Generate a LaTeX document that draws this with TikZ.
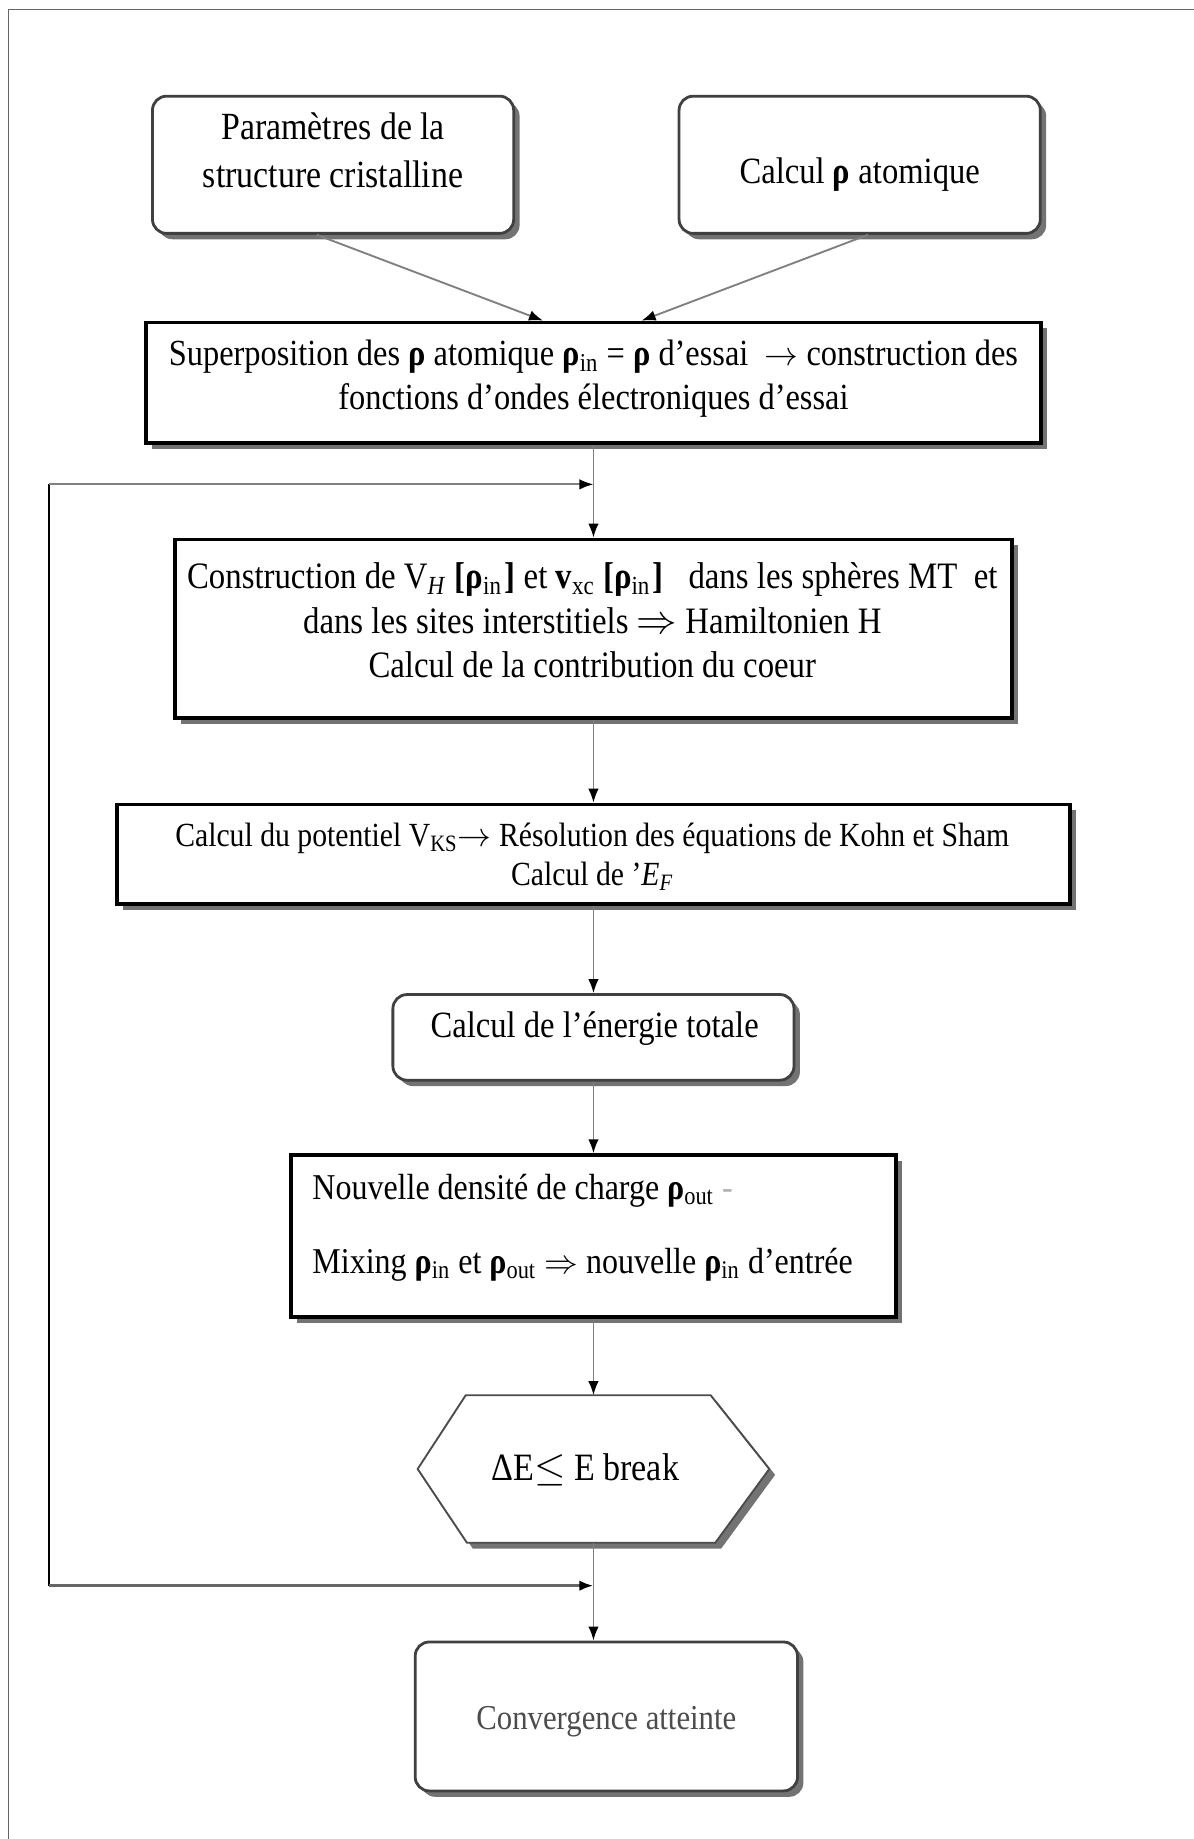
\documentclass[tikz,border=0pt]{standalone}
\usepackage{fontspec}
\setmainfont{Liberation Serif}[FakeStretch=0.88]
\usetikzlibrary{arrows.meta,shadows,calc}

% bold rho and subscripts used in the labels
\newcommand\rhob{\textbf{ρ}}
\newcommand\rin{\rhob\textsubscript{in}}
\newcommand\rout{\rhob\textsubscript{out}}
\newcommand\fsz[2]{\fontsize{#1}{#2}\selectfont}

\begin{document}
\begin{tikzpicture}[x=0.5pt,y=-0.5pt,
  every node/.style={inner sep=0pt},
  shade box/.style={drop shadow={shadow xshift=2.5pt,shadow yshift=-2.5pt,fill=black!55,opacity=1}},
  rbox/.style={draw=black!75,line width=1.2pt,rounded corners=6pt,fill=white,shade box},
  sbox/.style={draw=black,line width=1.6pt,fill=white,shade box},
  txt/.style={align=center,text=black},
  link/.style={draw=black!50,line width=0.8pt,-{Latex[length=6pt,width=4.5pt,color=black]}},
  loopline/.style={draw=black,line width=0.8pt},
]
\useasboundingbox (0,0) rectangle (1018,1568);

% page frame
\draw[black!60,line width=0.6pt] (7,1600) -- (7,8) -- (1040,8);

% boxes
\node[rbox,minimum width=154pt,minimum height=58.5pt] (b1) at (284,140.5) {};
\node[rbox,minimum width=154pt,minimum height=58.5pt] (b2) at (733,140.5) {};
\node[sbox,minimum width=381.5pt,minimum height=51.5pt] (b3) at (506,326.5) {};
\node[sbox,minimum width=357pt,minimum height=76pt] (b4) at (506,536) {};
\node[sbox,minimum width=406pt,minimum height=42.5pt] (b5) at (506,728.5) {};
\node[rbox,minimum width=171pt,minimum height=36.5pt] (b6) at (506,884.5) {};
\node[sbox,minimum width=258pt,minimum height=69pt] (b7) at (506,1054) {};
\node[minimum width=149.5pt,minimum height=62.5pt] (hex) at (506,1252.5) {};
\path[draw=black!70,line width=0.8pt,fill=white,shade box]
  ($(hex.north west)+(41,0)$) -- ($(hex.north east)+(-50,0)$) -- (hex.east)
  -- ($(hex.south east)+(-46,0)$) -- ($(hex.south west)+(42,0)$) -- (hex.west) -- cycle;
\node[rbox,minimum width=163pt,minimum height=63.5pt] (b8) at (517,1463.5) {};

% labels
\node[txt,font=\fsz{16.4}{20.5}] (t1) at (284,128.5) {Paramètres de la\\structure cristalline};
\node[txt,font=\fsz{15.8}{19}] (t2) at (733,149) {Calcul \rhob{} atomique};
\node[txt,font=\fsz{15.7}{18.5}] (t3) at (506,323)
  {Superposition des \rhob{} atomique \rin{} = \rhob{} d'essai ~$\rightarrow$ construction des\\
   fonctions d'ondes électroniques d'essai};
\node[txt,font=\fsz{15.9}{19}] (t4) at (505,529)
  {Construction de V\textsubscript{\textit{H}} \textbf{[}\rin\kern1pt\textbf{]} et \textbf{v}\textsubscript{xc} \textbf{[}\rin\kern1pt\textbf{]} ~~dans les sphères MT ~et\\
   dans les sites interstitiels $\Rightarrow$ Hamiltonien H\\
   Calcul de la contribution du coeur};
\node[txt,font=\fsz{14.4}{16.5}] (t5) at (505,730.5)
  {Calcul du potentiel V\textsubscript{KS}$\rightarrow$ Résolution des équations de Kohn et Sham\\
   Calcul de '\textit{E}\textsubscript{\textit{F}}};
\node[txt,font=\fsz{15.8}{19}] (t6) at (507,877) {Calcul de l'énergie totale};
\node[align=left,anchor=west,font=\fsz{15.5}{31.5}] (t7) at (266,1046.5)
  {Nouvelle densité de charge \rout{} \textcolor{black!30}{-}\\
   Mixing \rin{} et \rout{} $\Rightarrow$ nouvelle \rin{} d'entrée};
\node[txt,font=\fsz{16.5}{19}] (th) at (499,1253) {ΔE$\leq$ E break};
\node[txt,text=black!70,font=\fsz{14.9}{18}] (t8) at (517,1468) {Convergence atteinte};

% connectors
\draw[link] ([xshift=-7pt]b1.south) -- ([xshift=-21.5pt]b3.north);
\draw[link] ([xshift=3.5pt]b2.south) -- ([xshift=20.5pt]b3.north);
\draw[link] (b3.south) -- (b4.north);
\draw[link] (b4.south) -- (b5.north);
\draw[link] (b5.south) -- (b6.north);
\draw[link] (b6.south) -- (b7.north);
\draw[link] (b7.south) -- (hex.north);
\draw[link] (hex.south) -- (hex.south |- b8.north);

% feedback loop
\coordinate (lb) at (42,1352);
\coordinate (lt) at (42,413);
\coordinate (jt) at (506,413);
\coordinate (jb) at (506,1352);
\draw[loopline] (lb) -- (lt);
\draw[link] (lt) -- (jt);
\draw[link,draw=black!60,line width=1.2pt] (lb) -- (jb);
\end{tikzpicture}
\end{document}
